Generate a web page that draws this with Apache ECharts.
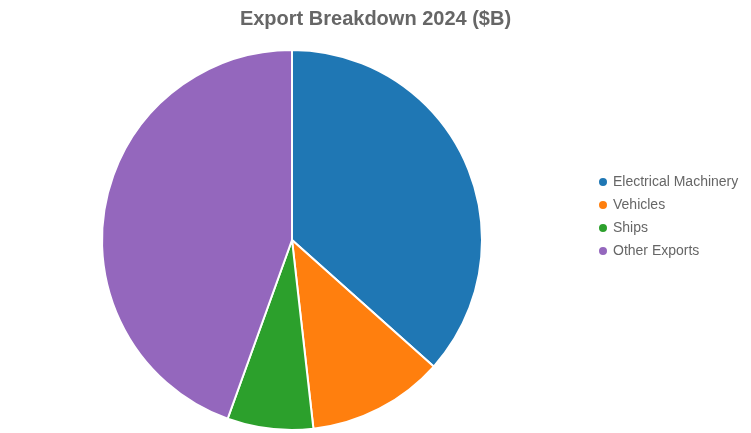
<!DOCTYPE html>
<html>
<head>
<meta charset="utf-8">
<script src="https://cdn.jsdelivr.net/npm/echarts@6/dist/echarts.min.js"></script>
<style>
    html, body { margin: 0; padding: 0; background: #fff; }
    #chart { width: 751px; height: 433px; }
</style>
</head>
<body>
<div id="chart"></div>
<script>
// 数据
var categories = ["Electrical Machinery", "Vehicles", "Ships", "Other Exports"];
var exportValues = [36.6, 11.6, 7.3, 44.5];
var sliceColors = ["#1f77b4", "#ff7f0e", "#2ca02c", "#9467bd"];

function buildPieData() {
    var arr = [];
    for (var i = 0; i < categories.length; i++) {
        arr.push({ name: categories[i], value: exportValues[i], itemStyle: { color: sliceColors[i] } });
    }
    return arr;
}

var myChart = echarts.init(document.getElementById("chart"));
var option = {
    animation: false,
    title: {
        text: "Export Breakdown 2024 ($B)",
        left: "center",
        top: 4,
        textStyle: { fontFamily: "Liberation Sans, Arial, sans-serif", fontSize: 20, fontWeight: "bold", color: "#666" }
    },
    legend: {
        orient: "vertical",
        left: 592,
        top: "middle",
        icon: "circle",
        itemWidth: 10,
        itemHeight: 10,
        itemGap: 9,
        textStyle: { fontFamily: "Liberation Sans, Arial, sans-serif", fontSize: 14, color: "#666" },
        data: categories
    },
    series: [
        {
            name: "Exports",
            type: "pie",
            center: [292, 240],
            radius: 190,
            startAngle: 90,
            clockwise: true,
            label: { show: false },
            labelLine: { show: false },
            itemStyle: { borderColor: "#fff", borderWidth: 2 },
            data: buildPieData()
        }
    ]
};
myChart.setOption(option);
</script>
</body>
</html>
